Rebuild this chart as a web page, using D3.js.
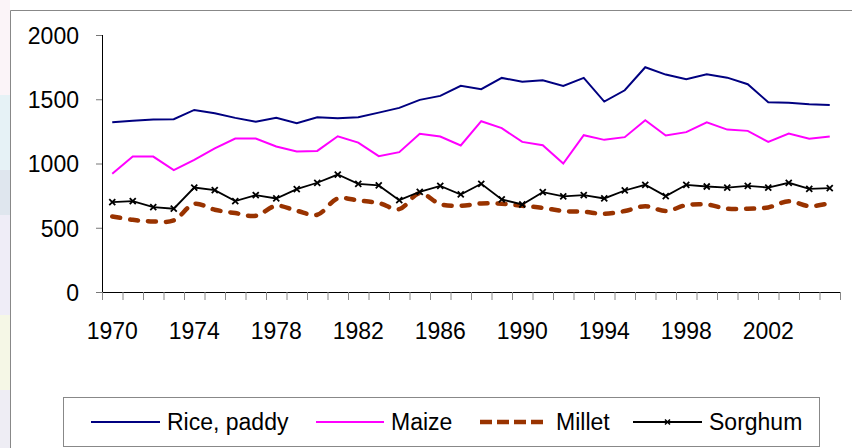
<!DOCTYPE html>
<html>
<head>
<meta charset="utf-8">
<script src="https://cdn.jsdelivr.net/npm/d3@7"></script>
<style>
  body { margin: 0; background: #fff; }
  text { font-family: "Liberation Sans", Arial, sans-serif; fill: #000; }
</style>
</head>
<body>
<div class="chart-div"></div>
<script>
// data
const years = d3.range(1970, 2006);
const yearLabels = ["1970", "1974", "1978", "1982", "1986", "1990", "1994", "1998", "2002"];
const yTicks = [0, 500, 1000, 1500, 2000];
const seriesNames = ["Rice, paddy", "Maize", "Millet", "Sorghum"];

const rice = [1321, 1332, 1342, 1345, 1417, 1391, 1355, 1326, 1355, 1313,
  1360, 1352, 1360, 1396, 1433, 1495, 1526, 1604, 1578, 1666, 1637, 1648, 1604,
  1666, 1482, 1570, 1749, 1692, 1655, 1694, 1668, 1617, 1477, 1472, 1461, 1456];
const maize = [920, 1054, 1054, 948, 1028, 1117, 1194, 1194, 1132, 1093,
  1098, 1212, 1163, 1057, 1088, 1231, 1210, 1140, 1329, 1275, 1168, 1142, 1000,
  1220, 1184, 1205, 1337, 1218, 1244, 1321, 1264, 1254, 1168, 1233, 1192, 1210];
const millet = [588, 562, 549, 557, 686, 640, 614, 593, 671, 632,
  601, 728, 712, 692, 645, 769, 684, 671, 689, 687, 671, 655, 630,
  624, 609, 630, 668, 630, 676, 681, 648, 648, 658, 707, 668, 692];
const sorghum = [699, 707, 661, 648, 813, 793, 707, 754, 728, 800,
  850, 914, 842, 829, 715, 780, 826, 759, 842, 720, 681, 777, 744,
  754, 728, 790, 834, 746, 834, 821, 813, 826, 813, 850, 803, 808];

const svgWidth = 852;
const svgHeight = 448;
const plot = { left: 102, right: 840, top: 35, bottom: 292 };

const svg = d3
  .select(".chart-div")
  .append("svg")
  .attr("width", svgWidth)
  .attr("height", svgHeight);

// faint slide background peeking in at the left edge
const strip = [
  ["#fbf4f8", 0, 95], ["#e6f2f6", 95, 75], ["#dfe6ee", 170, 45],
  ["#efedf7", 215, 100], ["#f5f7e6", 315, 75], ["#eeedf4", 390, 58]
];
svg.selectAll(".strip")
  .data(strip)
  .enter()
  .append("rect")
  .attr("x", 0)
  .attr("y", d => d[1])
  .attr("width", 10)
  .attr("height", d => d[2])
  .attr("fill", d => d[0]);

// chart frame (runs off the right and bottom)
svg.append("path")
  .attr("d", "M10.5," + svgHeight + "V10.5H" + svgWidth)
  .attr("fill", "none")
  .attr("stroke", "#888")
  .attr("stroke-width", 1);

// scales
const x = d3.scaleBand().domain(years).range([plot.left, plot.right]);
const xEdge = d3.scaleLinear().domain([0, years.length]).range([plot.left, plot.right]);
const y = d3.scaleLinear().domain([0, 2000]).range([plot.bottom, plot.top]);
const cx = d => x(d) + x.bandwidth() / 2;

// y axis
const yAxis = svg.append("g")
  .attr("transform", "translate(" + plot.left + ",0)")
  .call(d3.axisLeft(y).tickValues(yTicks).tickSize(6).tickPadding(17).tickFormat(d3.format("d")));
yAxis.select(".domain").attr("stroke", "#000").attr("d", "M0.5," + plot.top + "V" + plot.bottom);
yAxis.selectAll(".tick line").attr("stroke", "#777");
yAxis.selectAll("text")
  .style("font-size", "23px")
  .attr("dy", "0.36em");

// x axis: ticks on category edges, labels every fourth year
const xAxis = svg.append("g")
  .attr("transform", "translate(0," + plot.bottom + ")")
  .call(d3.axisBottom(xEdge).tickValues(d3.range(0, years.length + 1)).tickSize(8).tickFormat(""));
xAxis.select(".domain").attr("stroke", "#000").attr("d", "M" + plot.left + ",0.5H" + plot.right);
xAxis.selectAll(".tick line").attr("stroke", "#888");

svg.append("g")
  .selectAll("text")
  .data(yearLabels)
  .enter()
  .append("text")
  .attr("x", d => cx(+d))
  .attr("y", 339)
  .attr("text-anchor", "middle")
  .style("font-size", "23px")
  .text(d => d);

// lines
const line = d3.line()
  .x((d, i) => cx(years[i]))
  .y(d => y(d));
const smooth = d3.line()
  .x((d, i) => cx(years[i]))
  .y(d => y(d))
  .curve(d3.curveCatmullRom);

svg.append("path")
  .datum(millet)
  .attr("d", smooth)
  .attr("fill", "none")
  .attr("stroke", "#993300")
  .attr("stroke-width", 4.5)
  .attr("stroke-linecap", "round")
  .attr("stroke-dasharray", "8,10");

svg.append("path")
  .datum(rice)
  .attr("d", line)
  .attr("fill", "none")
  .attr("stroke", "#000080")
  .attr("stroke-width", 2);

svg.append("path")
  .datum(maize)
  .attr("d", line)
  .attr("fill", "none")
  .attr("stroke", "#ff00ff")
  .attr("stroke-width", 2);

svg.append("path")
  .datum(sorghum)
  .attr("d", line)
  .attr("fill", "none")
  .attr("stroke", "#000")
  .attr("stroke-width", 1.8);

// x markers for sorghum
const xMark = "M-3,-3L3,3M-3,3L3,-3";
svg.append("g")
  .selectAll("path")
  .data(sorghum)
  .enter()
  .append("path")
  .attr("transform", (d, i) => "translate(" + cx(years[i]) + "," + y(d) + ")")
  .attr("d", xMark)
  .attr("stroke", "#000")
  .attr("stroke-width", 1.8);

// legend
svg.append("rect")
  .attr("x", 63.5)
  .attr("y", 397.5)
  .attr("width", 756)
  .attr("height", 49)
  .attr("fill", "#fff")
  .attr("stroke", "#888");

const legendItems = [
  { name: seriesNames[0], x1: 91, x2: 160, tx: 167, color: "#000080", w: 2, dash: null },
  { name: seriesNames[1], x1: 316, x2: 384, tx: 391, color: "#ff00ff", w: 2, dash: null },
  { name: seriesNames[2], x1: 480, x2: 546, tx: 556, color: "#993300", w: 4.5, dash: "12,5" },
  { name: seriesNames[3], x1: 633, x2: 702, tx: 709, color: "#000", w: 1.8, dash: null }
];
const legendY = 422;
const legend = svg.append("g")
  .selectAll("g")
  .data(legendItems)
  .enter()
  .append("g");
legend.append("line")
  .attr("x1", d => d.x1)
  .attr("x2", d => d.x2)
  .attr("y1", legendY)
  .attr("y2", legendY)
  .attr("stroke", d => d.color)
  .attr("stroke-width", d => d.w)
  .attr("stroke-dasharray", d => d.dash);
legend.append("text")
  .attr("x", d => d.tx)
  .attr("y", 430)
  .style("font-size", "23px")
  .text(d => d.name);
svg.append("path")
  .attr("transform", "translate(" + 667.5 + "," + legendY + ")")
  .attr("d", "M-2.5,-2.5L2.5,2.5M-2.5,2.5L2.5,-2.5")
  .attr("stroke", "#000")
  .attr("stroke-width", 1.5);
</script>
</body>
</html>
